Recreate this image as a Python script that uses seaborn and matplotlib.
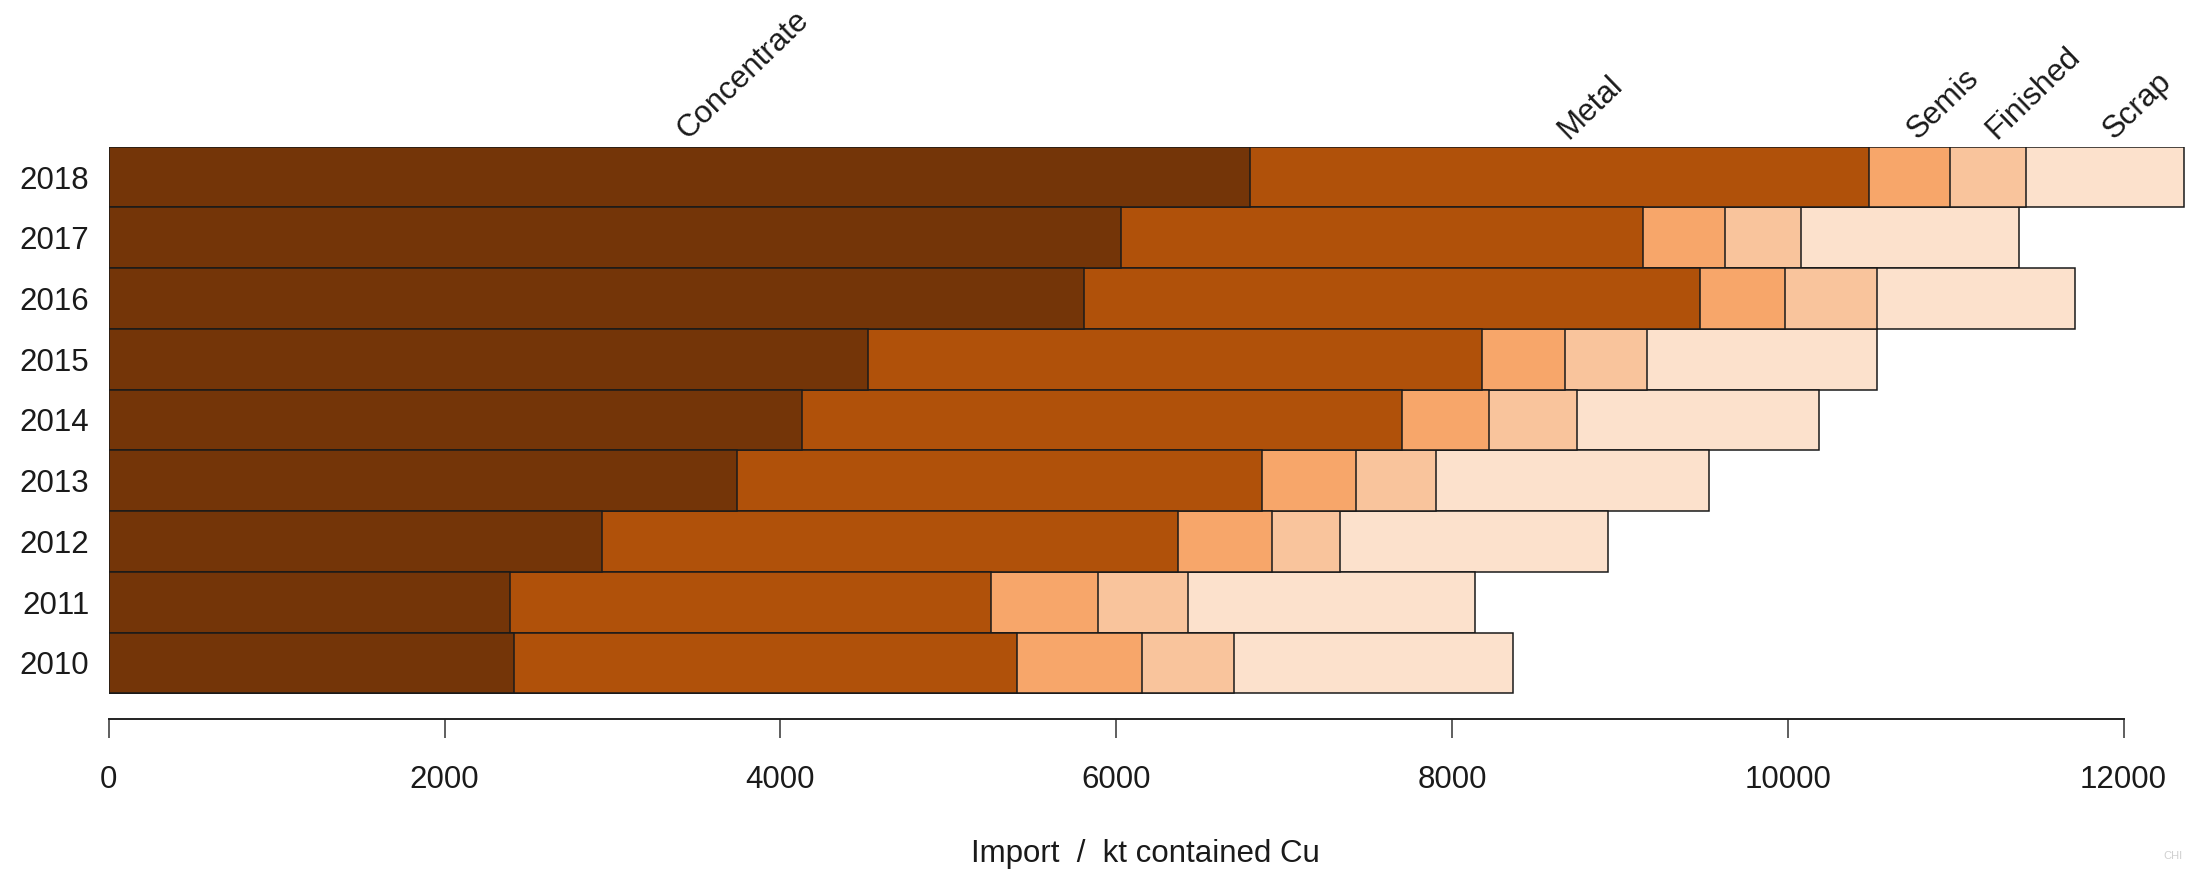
import numpy as np
import pandas as pd
import matplotlib
matplotlib.use("Agg")
import matplotlib.pyplot as plt
import matplotlib.transforms as mtransforms
import seaborn as sns

# ---- data (kt contained Cu) ----
years = ["2018", "2017", "2016", "2015", "2014", "2013", "2012", "2011", "2010"]
categories = ["Concentrate", "Metal", "Semis", "Finished", "Scrap"]
concentrate = [6796, 6029, 5808, 4525, 4128, 3740, 2937, 2390, 2415]
metal       = [3691, 3110, 3672, 3656, 3572, 3131, 3432, 2862, 2996]
semis       = [477, 489, 501, 490, 518, 560, 560, 639, 742]
finished    = [457, 453, 548, 489, 527, 477, 406, 540, 551]
scrap       = [941, 1298, 1182, 1369, 1444, 1625, 1597, 1705, 1658]
xticks = [0, 2000, 4000, 6000, 8000, 10000, 12000]
colors = ["#743508", "#B0510A", "#F7A66A", "#F9C49C", "#FCE1CC"]

sns.set_style("white")
plt.rcParams["font.family"] = ["Liberation Sans", "DejaVu Sans"]

df = pd.DataFrame({"year": years, "Concentrate": concentrate, "Metal": metal,
                   "Semis": semis, "Finished": finished, "Scrap": scrap})
cum = df[categories].cumsum(axis=1)

W, H = 2192, 874
fig = plt.figure(figsize=(W / 100, H / 100), dpi=100)
x0_px, x_per_k = 108.7, 167.9
xmax = 12380
left = x0_px / W
right_px = x0_px + xmax / 1000 * x_per_k
ax = fig.add_axes([left, 1 - 719.3 / H, (right_px - x0_px) / W, (719.3 - 146.7) / H])

edge = "#1a1a1a"
for cat, col in reversed(list(zip(categories, colors))):
    sns.barplot(x=cum[cat], y=df["year"], order=years, orient="h", color=col,
                saturation=1, width=1.0, edgecolor=edge, linewidth=1.1, ax=ax)

ax.set_xlim(0, xmax)
ax.set_ylim(8.5 + 26 / 60.73, -0.5)
ax.set_xlabel("")
ax.set_ylabel("")
for s in ["top", "right", "left"]:
    ax.spines[s].set_visible(False)
ax.spines["bottom"].set_bounds(0, 12000)
ax.spines["bottom"].set_linewidth(1.4)
ax.spines["bottom"].set_color("#222222")
ax.set_xticks(xticks)
ax.set_xticklabels([str(t) for t in xticks])
ax.tick_params(axis="x", length=13.7, width=1.1, color="#333333", pad=19.5,
               labelsize=22.5, labelcolor="#1a1a1a", direction="out", bottom=True)
ax.tick_params(axis="y", length=0, pad=14, labelsize=22.5, labelcolor="#1a1a1a")
ax.grid(False)

# category labels above the top bar, at segment midpoints of 2018
starts = [0] + list(cum.iloc[0, :-1])
ends = list(cum.iloc[0])
shifted = mtransforms.offset_copy(ax.transData, fig=fig, x=6, y=0, units="points")
for cat, s, e in zip(categories, starts, ends):
    ax.text((s + e) / 2, -0.5 - 0.11, cat, rotation=44, rotation_mode="anchor",
            ha="left", va="baseline", fontsize=22.5, color="#1a1a1a",
            clip_on=False, transform=shifted)

fig.text(1145 / W, 1 - 854 / H, "Import  /  kt contained Cu", ha="center",
         va="center", fontsize=22.5, color="#1a1a1a")
fig.text(2163 / W, 1 - 856 / H, "CHI", ha="left", va="center", fontsize=8,
         color="#d0d0d0")

fig.savefig("out.png", dpi=100)
